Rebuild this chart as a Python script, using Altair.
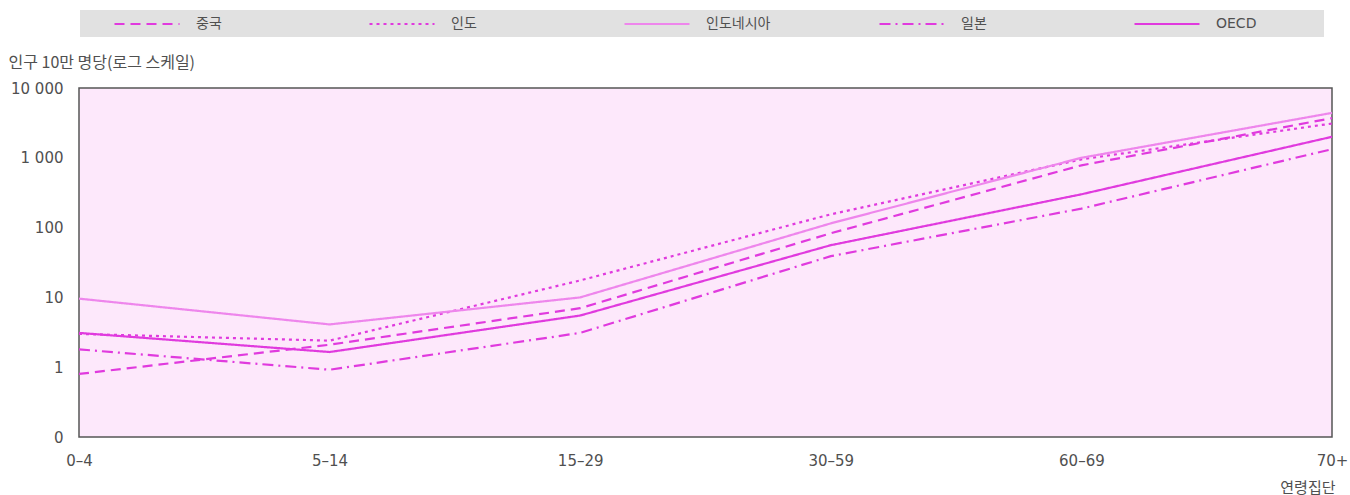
import altair as alt
import pandas as pd

# Age groups (x axis)
age_groups = ["0–4", "5–14", "15–29", "30–59", "60–69", "70+"]

# Rates per 100,000 population, by age group
china = [0.8, 2.1, 7.0, 83, 780, 3700]
india = [3.0, 2.4, 17.5, 155, 950, 3100]
indonesia = [9.6, 4.1, 10, 115, 1000, 4400]
japan = [1.8, 0.92, 3.1, 39, 187, 1330]
oecd = [3.1, 1.65, 5.5, 56, 300, 2000]

series_names = ["중국", "인도", "인도네시아", "일본", "OECD"]
series_values = [china, india, indonesia, japan, oecd]

y_ticks = [0.1, 1, 10, 100, 1000, 10000]

rows = []
for name, vals in zip(series_names, series_values):
    for grp, v in zip(age_groups, vals):
        rows.append({"국가": name, "연령": grp, "값": v})
df = pd.DataFrame(rows)

FONT = "DejaVu Sans, Noto Sans CJK KR"
KFONT = "Noto Sans CJK KR"
TEXT = "#505050"

line_colors = ["#e03ade", "#e03ade", "#ee86ec", "#e03ade", "#e03ade"]
line_dashes = [[10, 6], [3, 4], [1, 0], [11, 5, 2, 5], [1, 0]]
line_widths = [2.2, 2.2, 1.6, 2.2, 2.8]

# long flat legend stroke drawn with a small nominal symbol size
LEGEND_STROKE = "M-5,0L5,0"

# blank (non-whitespace) filler after the last legend label so the legend
# band stretches to the right edge of the plot
legend_label_expr = (
    "datum.label == 'OECD' ? datum.label + '\u2800\u2800\u2800\u2800\u2800\u2800' : datum.label"
)

chart = (
    alt.Chart(df)
    .mark_line(interpolate="linear")
    .encode(
        x=alt.X(
            "연령:N",
            sort=age_groups,
            scale=alt.Scale(domain=age_groups, padding=0),
            axis=alt.Axis(
                title="연령집단",
                titleFont=KFONT,
                titleFontSize=15,
                titleFontWeight="normal",
                titleColor=TEXT,
                titleX=1256,
                titleY=50,
                titleAlign="right",
                titleBaseline="middle",
                labelAngle=0,
                labelFont=FONT,
                labelFontSize=15,
                labelColor=TEXT,
                labelPadding=16,
                ticks=False,
                domain=False,
                grid=False,
            ),
        ),
        y=alt.Y(
            "값:Q",
            scale=alt.Scale(type="log", domain=[0.1, 10000], nice=False),
            axis=alt.Axis(
                title="인구 10만 명당(로그 스케일)",
                titleFont=KFONT,
                titleAngle=0,
                titleFontSize=16,
                titleFontWeight="normal",
                titleColor=TEXT,
                titleX=-71,
                titleY=-26,
                titleAlign="left",
                titleBaseline="middle",
                values=y_ticks,
                labelExpr="datum.value < 0.5 ? '0' : replace(format(datum.value, ','), ',', ' ')",
                labelFont=FONT,
                labelFontSize=15,
                labelColor=TEXT,
                labelPadding=16,
                ticks=False,
                domain=False,
                grid=False,
            ),
        ),
        color=alt.Color(
            "국가:N",
            sort=series_names,
            scale=alt.Scale(domain=series_names, range=line_colors),
            legend=alt.Legend(
                title=None,
                orient="none",
                legendX=1,
                legendY=-78,
                direction="horizontal",
                columns=5,
                gridAlign="all",
                columnPadding=43,
                fillColor="#e1e1e1",
                padding=6,
                symbolOffset=53,
                symbolType=LEGEND_STROKE,
                symbolSize=169,
                labelFontSize=14,
                labelColor=TEXT,
                labelFont=FONT,
                labelOffset=41,
                labelLimit=300,
                labelExpr=legend_label_expr,
            ),
        ),
        strokeDash=alt.StrokeDash(
            "국가:N",
            sort=series_names,
            scale=alt.Scale(domain=series_names, range=line_dashes),
            legend=None,
        ),
        strokeWidth=alt.StrokeWidth(
            "국가:N",
            sort=series_names,
            scale=alt.Scale(domain=series_names, range=line_widths),
            legend=None,
        ),
    )
    .properties(
        width=1253,
        height=349,
        autosize=alt.AutoSizeParams(type="none"),
        padding={"left": 79, "top": 88, "right": 18, "bottom": 58},
        background="white",
    )
    .configure(font=FONT)
    .configure_view(fill="#fde8fb", stroke="#555555", strokeWidth=1.5)
)

chart.save("out.html", embed_options={"renderer": "svg", "actions": False})
